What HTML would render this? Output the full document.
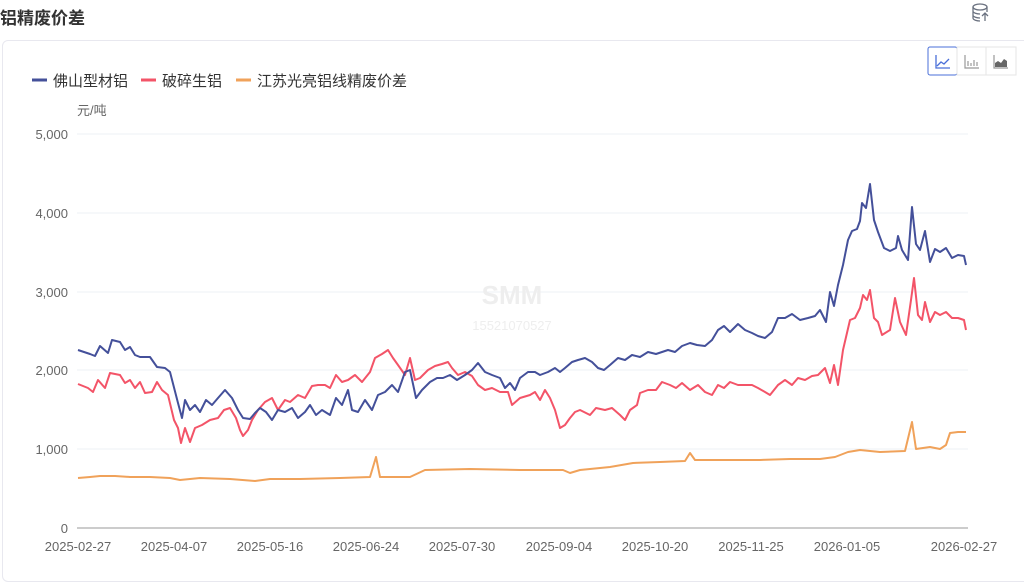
<!DOCTYPE html>
<html><head><meta charset="utf-8"><style>
body{margin:0;width:1024px;height:568px;background:#fff;font-family:"Liberation Sans","Noto Sans CJK SC",sans-serif;overflow:hidden;position:relative}
.t{position:absolute;left:0;top:4px;font-size:17px;font-weight:bold;color:#333}
.card{position:absolute;left:2px;top:40px;width:1030px;height:540px;border:1px solid #e8e8ef;border-radius:6px}
svg{position:absolute;left:0;top:0}
</style></head><body>
<div class="t">铝精废价差</div>
<div class="card"></div>
<svg width="1024" height="568" font-family="Liberation Sans, Noto Sans CJK SC, sans-serif">
<g stroke="#6b7280" fill="none" stroke-width="1.3">
<ellipse cx="980" cy="7" rx="7" ry="3"/><path d="M973 7v11c0 2 4 3 7 3M987 7v5M973 11c0 2 4 3 7 3M973 15c0 2 4 3 7 3M985 21v-7M982 16l3-3 3 3"/>
</g>
<rect x="928" y="47" width="29" height="28" fill="#fff" stroke="#4a6fd8" rx="2"/>
<rect x="957" y="47" width="29" height="28" fill="#fff" stroke="#e5e5e5"/>
<rect x="986" y="47" width="30" height="28" fill="#fff" stroke="#e5e5e5"/>
<path d="M936 55v13h14M937 66l4-4 3 2 5-5" stroke="#4a6fd8" fill="none" stroke-width="1.3"/>
<path d="M965 55v13h14M968 66v-5M971 66v-3M974 66v-6M977 66v-4" stroke="#999" fill="none" stroke-width="1.2"/>
<path d="M994 55v13h14" stroke="#999" fill="none" stroke-width="1.2"/><path d="M995 67v-4l3-2 3 2 3-4 3 2v6z" fill="#666"/>
<g font-size="15" fill="#333">
<line x1="32" y1="80" x2="47" y2="80" stroke="#44509a" stroke-width="3"/><text x="53" y="86">佛山型材铝</text>
<line x1="141" y1="80" x2="156" y2="80" stroke="#f35468" stroke-width="3"/><text x="162" y="86">破碎生铝</text>
<line x1="236" y1="80" x2="251" y2="80" stroke="#f0a25a" stroke-width="3"/><text x="257" y="86">江苏光亮铝线精废价差</text>
</g>
<text x="77" y="115" font-size="13" fill="#666">元/吨</text>
<g stroke="#eef0f6" stroke-width="1"><line x1="77" y1="134" x2="968" y2="134"/><line x1="77" y1="213" x2="968" y2="213"/><line x1="77" y1="292" x2="968" y2="292"/><line x1="77" y1="370" x2="968" y2="370"/><line x1="77" y1="449" x2="968" y2="449"/></g>
<line x1="77" y1="528" x2="968" y2="528" stroke="#999"/>
<g font-size="13" fill="#666" text-anchor="end"><text x="68" y="139">5,000</text><text x="68" y="218">4,000</text><text x="68" y="297">3,000</text><text x="68" y="375">2,000</text><text x="68" y="454">1,000</text><text x="68" y="533">0</text></g>
<g font-size="13" fill="#666" text-anchor="middle"><text x="78" y="551">2025-02-27</text><text x="174" y="551">2025-04-07</text><text x="270" y="551">2025-05-16</text><text x="366" y="551">2025-06-24</text><text x="462" y="551">2025-07-30</text><text x="559" y="551">2025-09-04</text><text x="655" y="551">2025-10-20</text><text x="751" y="551">2025-11-25</text><text x="847" y="551">2026-01-05</text><text x="964" y="551">2026-02-27</text></g>
<text x="512" y="304" font-size="26" font-weight="bold" fill="#eee" text-anchor="middle">SMM</text>
<text x="512" y="330" font-size="13" fill="#eee" text-anchor="middle">15521070527</text>
<g fill="none" stroke-width="2" stroke-linejoin="round">
<polyline stroke="#f0a25a" points="78,478 90,477 100,476 115,476 130,477 150,477 170,478 180,480 200,478 230,479 255,481 270,479 300,479 340,478 370,477 376,457 380,477 410,477 425,470 470,469 520,470 563,470 570,473 580,470 610,467 633,463 660,462 685,461 690,453 695,460 730,460 760,460 790,459 820,459 835,457 848,452 860,450 880,452 905,451 912,422 916,449 930,447 940,449 946,445 950,433 958,432 966,432"/>
<polyline stroke="#f35468" points="78,384 88,388 93,392 98,380 105,388 110,373 120,375 125,383 130,380 135,388 140,382 145,393 152,392 157,382 162,390 168,395 174,420 178,428 181,443 185,428 190,442 195,428 202,425 210,420 218,418 224,410 230,408 236,418 240,430 243,436 248,430 252,420 258,410 265,402 272,398 278,410 285,400 290,402 298,395 305,398 312,386 318,385 325,385 330,388 336,375 342,382 348,380 355,375 362,382 370,372 375,358 382,354 388,350 393,358 398,365 405,375 410,358 415,380 420,378 428,370 435,366 442,364 448,362 452,368 458,375 465,372 472,376 478,385 485,390 492,388 500,392 508,392 512,405 520,398 530,395 535,392 540,400 545,390 550,398 555,410 560,428 565,425 570,418 575,412 580,410 590,415 596,408 605,410 612,408 620,415 625,420 630,410 637,405 640,393 648,390 656,390 662,382 670,385 676,388 682,383 690,390 698,385 705,392 712,395 718,385 724,388 730,382 738,385 745,385 752,385 758,388 765,392 770,395 778,385 785,380 792,385 798,378 805,380 812,376 818,375 825,368 830,383 834,365 838,385 843,350 850,320 855,318 860,308 863,295 867,300 870,290 874,318 878,322 882,335 890,330 895,298 900,322 906,335 911,300 914,278 918,315 922,320 925,302 930,322 935,312 940,315 946,312 952,318 958,318 964,320 966,330"/>
<polyline stroke="#44509a" points="78,350 90,354 95,356 100,346 108,353 112,340 120,342 125,350 130,347 135,355 140,357 150,357 157,367 165,368 170,372 178,403 182,418 185,400 190,410 195,405 200,412 206,400 212,405 218,398 225,390 232,398 238,410 243,418 250,419 255,413 260,408 266,412 272,420 278,410 285,412 292,408 298,418 305,412 310,405 316,415 322,410 330,415 336,398 342,405 348,390 352,410 358,412 365,400 372,410 378,395 385,392 392,385 398,392 405,372 410,370 416,398 422,390 430,382 437,378 443,378 450,375 457,380 465,375 472,370 478,363 485,372 492,375 500,378 505,388 510,383 515,390 520,378 528,372 535,372 540,375 548,372 555,368 560,372 565,368 572,362 578,360 585,358 592,362 598,368 604,370 610,365 618,358 625,360 632,355 640,357 648,352 656,354 662,352 668,350 675,352 682,346 690,343 697,345 705,346 712,340 718,330 724,326 730,332 738,324 745,330 752,333 758,336 765,338 772,332 778,318 785,318 792,314 800,320 808,318 815,316 820,310 826,322 830,292 834,306 838,285 843,265 848,240 852,231 857,229 860,221 862,203 866,208 870,184 874,220 878,232 884,248 890,251 896,248 898,236 902,250 908,260 912,207 916,244 920,250 925,231 930,262 935,249 940,252 946,248 952,258 958,255 964,256 966,265"/>
</g>
</svg>
</body></html>
